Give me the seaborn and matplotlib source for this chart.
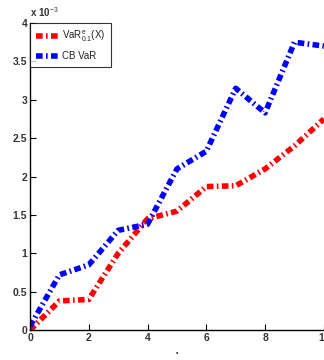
import matplotlib
matplotlib.use("Agg")
import matplotlib.pyplot as plt
import matplotlib.ticker as mticker
from matplotlib.lines import Line2D
import pandas as pd
import seaborn as sns

# Risk measure estimates over the horizon
x_vals = [0, 1, 2, 3, 4, 5, 6, 7, 8, 9, 10]
var_e = [0.0, 0.38e-3, 0.40e-3, 1.00e-3, 1.45e-3, 1.55e-3, 1.87e-3, 1.88e-3, 2.10e-3, 2.40e-3, 2.75e-3]
cb_var = [0.05e-3, 0.72e-3, 0.85e-3, 1.30e-3, 1.38e-3, 2.10e-3, 2.33e-3, 3.15e-3, 2.83e-3, 3.75e-3, 3.70e-3]
series_names = [r"VaR$^{e}_{0.1}$(X)", "CB VaR"]
x_ticks = [0, 2, 4, 6, 8, 10]
y_ticks = [0, 0.5e-3, 1.0e-3, 1.5e-3, 2.0e-3, 2.5e-3, 3.0e-3, 3.5e-3, 4.0e-3]
y_scale = 1e-3

df = pd.DataFrame({
    "x": x_vals * 2,
    "value": var_e + cb_var,
    "series": [series_names[0]] * len(x_vals) + [series_names[1]] * len(x_vals),
})

sns.set_theme(style="white")
plt.rcParams["font.family"] = ["Liberation Sans", "DejaVu Sans"]
plt.rcParams["mathtext.fontset"] = "custom"
plt.rcParams["mathtext.rm"] = "Liberation Sans"
plt.rcParams["mathtext.it"] = "Liberation Sans"
plt.rcParams["mathtext.bf"] = "Liberation Sans:bold"

fig = plt.figure(figsize=(3.24, 3.6), dpi=100)
ax = fig.add_axes([0.0926, 0.083, 0.907, 0.853])

dash = (0, (1.2, 0.6, 0.3, 0.6))
lw = 4.0
sns.lineplot(data=df, x="x", y="value", hue="series",
             palette=["#ff0000", "#0000ff"], ax=ax, legend=False,
             linewidth=lw)
for line in ax.lines:
    line.set_linestyle(dash)
    line.set_dash_capstyle("butt")
    line.set_dash_joinstyle("round")

ax.set_xlim(0, 10)
ax.set_ylim(0, 4e-3)
ax.set_xticks(x_ticks)
ax.set_yticks(y_ticks)
ax.yaxis.set_major_formatter(mticker.FuncFormatter(lambda v, p: f"{v / y_scale:g}"))
ax.text(0.0, 1.012, r"x 10$^{-3}$", transform=ax.transAxes, fontsize=7,
        fontweight="bold", color="#333333", ha="left", va="bottom")

for s in ["top", "right"]:
    ax.spines[s].set_visible(False)
for s in ["left", "bottom"]:
    ax.spines[s].set_color("black")
    ax.spines[s].set_linewidth(1.0)

ax.tick_params(axis="both", direction="in", length=4, width=0.8,
               labelsize=7.5, colors="black", labelcolor="#333333", pad=2,
               left=True, bottom=True)
for lab in ax.get_xticklabels() + ax.get_yticklabels():
    lab.set_fontweight("bold")

ax.set_xlabel("•", fontsize=5, labelpad=5)
ax.set_ylabel("")

handles = [Line2D([], [], color="#ff0000", lw=lw, linestyle=dash, dash_capstyle="butt"),
           Line2D([], [], color="#0000ff", lw=lw, linestyle=dash, dash_capstyle="butt")]
leg = ax.legend(handles, series_names, loc="upper left",
                bbox_to_anchor=(0.0, 1.0), frameon=True, fancybox=False,
                edgecolor="black", fontsize=7, handlelength=2.3,
                handletextpad=0.4, borderpad=0.6, labelspacing=0.7,
                borderaxespad=0.0)
leg.get_frame().set_linewidth(0.8)
for t in leg.get_texts():
    t.set_color("#222222")

fig.savefig("out.png", dpi=100)
